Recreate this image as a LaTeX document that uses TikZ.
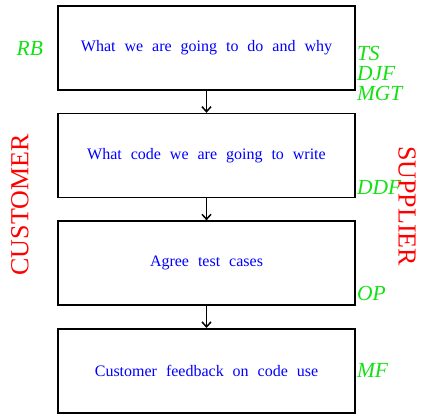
\documentclass[tikz,border=0pt]{standalone}
\usepackage{fontspec}
\setmainfont{Liberation Serif}
\usetikzlibrary{positioning, arrows.meta}

\newcommand{\widespaces}{\spaceskip=0.56em\relax}
\definecolor{namegreen}{RGB}{20,225,20}

\tikzset{
    stage/.style={draw=black, line width=1.6pt, minimum width=297pt, minimum height=84pt,
        text=blue, font={\fontsize{16}{19}\selectfont\widespaces}},
    flow/.style={line width=1.5pt, -{Straight Barb[length=5pt, width=9pt]}},
    who/.style={text=namegreen, font={\fontsize{21.5}{20}\selectfont\itshape}, inner sep=1pt},
    side/.style={text=red, font={\fontsize{26}{26}\selectfont}, inner sep=0pt}
}

\begin{document}
\begin{tikzpicture}[x=1pt, y=1pt]

\useasboundingbox (0,0) rectangle (430,-414);

\node[stage] (plan) at (206.5,-48) {What we are going to do and why};

\node[stage, below=22pt of plan] (code) {What code we are going to write};

\node[stage, below=22pt of code] (tests) {Agree test cases};

\node[stage, below=22pt of tests] (feedback) {Customer feedback on code use};

\draw[flow] (plan) -- (code);

\draw[flow] (code) -- (tests);

\draw[flow] (tests) -- (feedback);

\node[who, anchor=east] (rb) at ([xshift=-13pt]plan.west) {RB};

\node[who, anchor=south west, align=left] (ts) at ([yshift=-11pt]plan.south east) {TS\\DJF\\MGT};

\node[who, anchor=south west] (ddf) at ([yshift=3pt]code.south east) {DDF};

\node[who, anchor=south west] (op) at ([yshift=4pt]tests.south east) {OP};

\node[who, anchor=west] (mf) at (feedback.east) {MF};

\node[side, rotate=90] (customer) at (20,-205) {CUSTOMER};

\node[side, rotate=-90] (supplier) at (407,-206) {SUPPLIER};

\end{tikzpicture}
\end{document}
